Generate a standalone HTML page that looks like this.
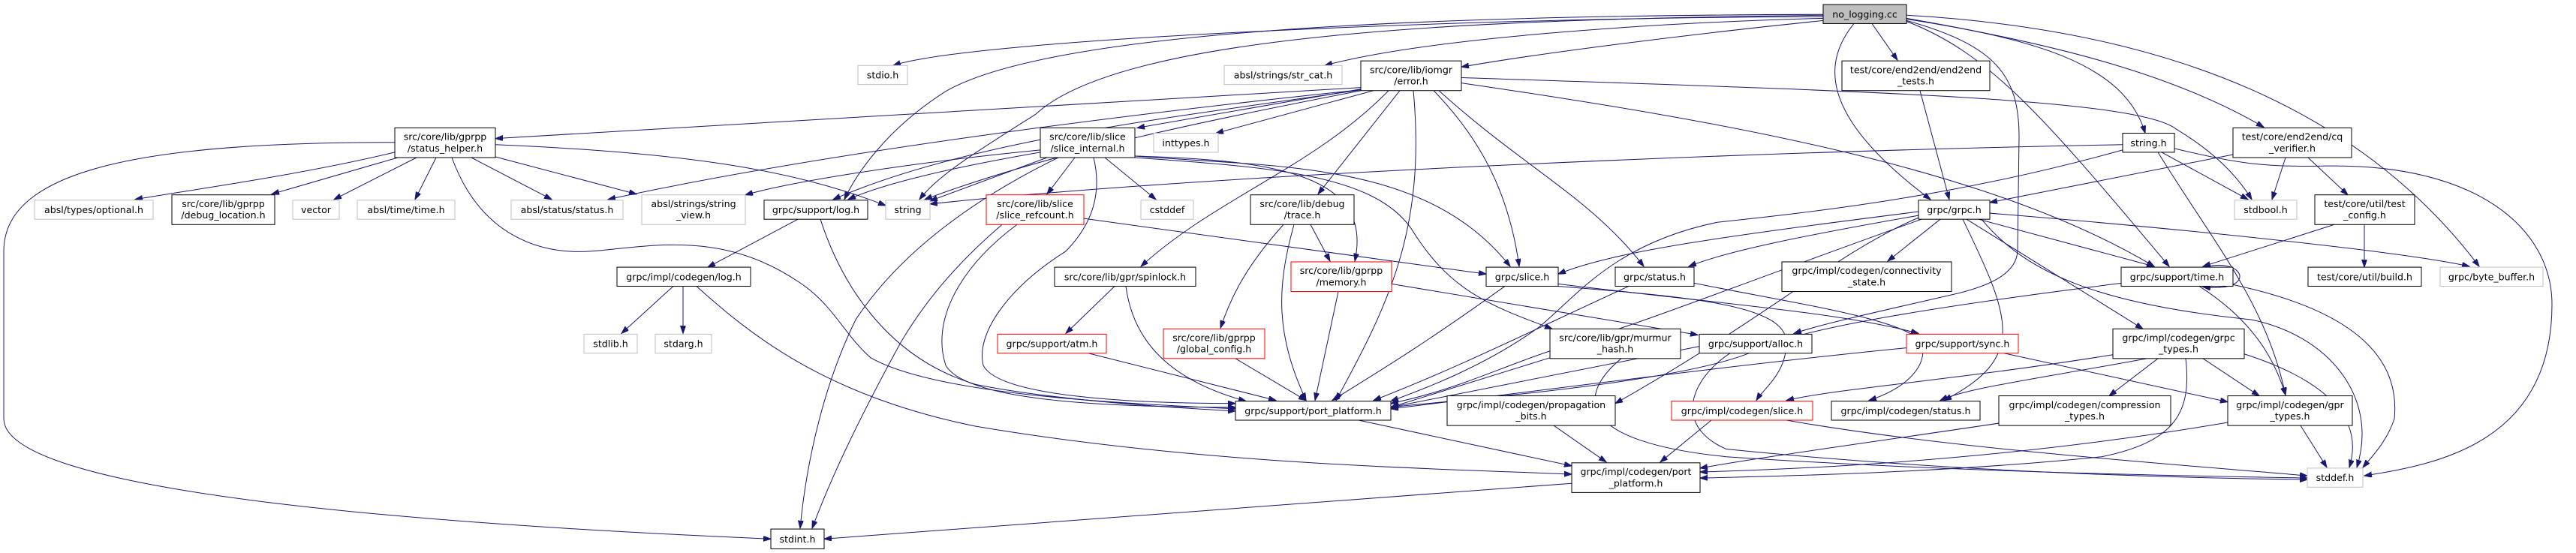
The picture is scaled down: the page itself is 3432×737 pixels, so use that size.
<!DOCTYPE html>
<html><head><meta charset="utf-8"><style>
html,body{margin:0;padding:0;background:#fff;}
svg{display:block}
text{font-family:"DejaVu Sans","Liberation Sans",sans-serif;font-size:12.6px;fill:#000;text-anchor:middle}
.e{fill:none;stroke:#191970;stroke-width:1;marker-end:url(#a)}
.n{fill:#fff;stroke:#000;stroke-width:1}
.g{fill:#fff;stroke:#bfbfbf;stroke-width:1}
.r{fill:#fff;stroke:#ff0000;stroke-width:1}
</style></head><body>
<svg width="3432" height="737" viewBox="0 0 3432 737" xmlns="http://www.w3.org/2000/svg">
<defs><marker id="a" markerUnits="userSpaceOnUse" markerWidth="11" markerHeight="8" refX="10" refY="3.5" orient="auto"><path d="M0,0 L10,3.5 L0,7 z" fill="#191970" stroke="#191970"/></marker></defs>
<g transform="scale(1,1.0145)">
<g>
<path class="e" d="M2429,22 C2000,22 1300,50 1190,86"/>
<path class="e" d="M2429,24 C2200,30 1900,50 1765,86"/>
<path class="e" d="M2429,27 C2250,45 2050,70 1947,88"/>
<path class="e" d="M2429,20 C2000,25 1500,40 1380,150 C1300,200 1250,230 1225,262"/>
<path class="e" d="M2429,19 C1900,20 1400,40 1260,120 C1180,170 1140,230 1125,262"/>
<path class="e" d="M2494,31 L2528,79"/>
<path class="e" d="M2470,31 C2430,80 2420,150 2572,262"/>
<path class="e" d="M2540,27 C2660,60 2690,100 2690,180 L2688,330 C2686,360 2650,375 2610,385 C2500,410 2430,425 2390,438"/>
<path class="e" d="M2540,28 C2650,70 2720,150 2890,350"/>
<path class="e" d="M2540,25 C2700,50 2830,80 2858,175"/>
<path class="e" d="M2540,24 C2750,60 2900,100 3016,167"/>
<path class="e" d="M2540,20 C2900,40 3150,150 3303,350"/>
<path class="e" d="M1813,115 L660,182"/>
<path class="e" d="M1813,118 C1500,150 1100,200 810,262"/>
<path class="e" d="M1813,118 C1600,150 1300,180 1110,262"/>
<path class="e" d="M1813,119 C1600,160 1400,200 1232,262"/>
<path class="e" d="M1813,117 L1515,168"/>
<path class="e" d="M1830,119 L1620,175"/>
<path class="e" d="M1850,119 C1750,220 1620,260 1520,350"/>
<path class="e" d="M1865,119 L1756,255"/>
<path class="e" d="M1883,119 C1900,300 1850,400 1780,526"/>
<path class="e" d="M1910,119 C1970,180 2010,250 2024,350"/>
<path class="e" d="M1917,119 C2030,220 2120,260 2190,350"/>
<path class="e" d="M1947,102 C2500,120 2850,130 2900,170 C2950,200 2980,230 3000,262"/>
<path class="e" d="M1947,109 C2300,160 2650,220 2870,350"/>
<path class="e" d="M526,200 C400,230 250,250 180,262"/>
<path class="e" d="M530,207 L362,255"/>
<path class="e" d="M555,207 L445,262"/>
<path class="e" d="M581,207 L553,262"/>
<path class="e" d="M628,207 L735,262"/>
<path class="e" d="M660,206 L848,255"/>
<path class="e" d="M660,190 C900,200 1050,220 1180,270"/>
<path class="e" d="M602,207 C640,310 720,335 788,330 C860,325 960,300 1065,371 C1110,400 1125,440 1160,470 C1250,520 1500,530 1646,537"/>
<path class="e" d="M526,187 C200,187 5,220 5,330 L5,550 C5,650 600,690 1027,708"/>
<path class="e" d="M1063,288 L943,351"/>
<path class="e" d="M1093,288 C1120,370 1180,470 1300,505 C1400,525 1550,535 1646,540"/>
<path class="e" d="M897,376 L828,438"/>
<path class="e" d="M910,376 L910,438"/>
<path class="e" d="M928,376 C1000,440 1100,520 1300,560 C1600,610 1900,615 2094,623"/>
<path class="e" d="M1386,197 C1200,215 1050,240 993,256"/>
<path class="e" d="M1386,200 C1270,220 1180,240 1130,262"/>
<path class="e" d="M1395,207 L1239,264"/>
<path class="e" d="M1432,207 L1395,255"/>
<path class="e" d="M1472,207 L1540,262"/>
<path class="e" d="M1410,207 C1300,260 1200,330 1140,420 C1100,500 1075,600 1066,694"/>
<path class="e" d="M1457,207 C1470,260 1450,300 1420,330 C1340,380 1300,440 1310,480 C1330,520 1500,530 1646,530"/>
<path class="e" d="M1512,205 C1700,220 1900,210 2012,350"/>
<path class="e" d="M1512,205 C1700,210 1830,230 1805,343"/>
<path class="e" d="M1512,207 C1700,220 1830,230 1880,300 C1930,380 1980,400 2068,432"/>
<path class="e" d="M2828,190 C2300,200 1600,230 1239,268"/>
<path class="e" d="M1444,287 L1980,360"/>
<path class="e" d="M1355,295 C1280,350 1240,420 1260,480 C1290,530 1500,535 1646,535"/>
<path class="e" d="M1335,295 C1270,350 1230,400 1200,450 C1150,540 1110,620 1082,694"/>
<path class="e" d="M1746,295 L1772,343"/>
<path class="e" d="M1710,295 C1660,350 1640,390 1626,431"/>
<path class="e" d="M1724,295 C1700,380 1700,440 1740,526"/>
<path class="e" d="M1485,376 L1420,438"/>
<path class="e" d="M1500,376 C1510,450 1560,500 1660,527"/>
<path class="e" d="M1450,464 L1700,526"/>
<path class="e" d="M1646,471 L1740,526"/>
<path class="e" d="M1783,383 L1752,526"/>
<path class="e" d="M1854,373 L2262,440"/>
<path class="e" d="M2005,376 C1900,450 1850,480 1775,526"/>
<path class="e" d="M2076,373 C2300,400 2450,410 2556,438"/>
<path class="e" d="M2076,376 C2250,390 2380,400 2380,450 C2380,490 2350,510 2340,526"/>
<path class="e" d="M2170,376 C2050,430 1950,480 1830,526"/>
<path class="e" d="M2257,372 C2400,400 2540,420 2560,450 C2570,480 2540,510 2490,526"/>
<path class="e" d="M2065,470 L1853,535"/>
<path class="e" d="M2160,471 C2100,520 2100,580 2300,600 C2600,620 2900,625 3074,628"/>
<path class="e" d="M1810,552 L2094,612"/>
<path class="e" d="M2070,559 L2140,607"/>
<path class="e" d="M2280,552 L2212,607"/>
<path class="e" d="M2380,552 C2600,590 2900,610 3074,625"/>
<path class="e" d="M2094,635 L1098,708"/>
<path class="e" d="M2556,278 C2300,310 2150,330 2076,360"/>
<path class="e" d="M2556,283 C2400,310 2300,330 2250,350"/>
<path class="e" d="M2585,288 L2515,343"/>
<path class="e" d="M2636,288 L2870,350"/>
<path class="e" d="M2620,288 L2855,432"/>
<path class="e" d="M2651,280 C2900,300 3200,330 3290,350"/>
<path class="e" d="M2640,288 C2700,360 2800,400 3000,420 C3100,440 3170,520 3140,614"/>
<path class="e" d="M2560,288 C2300,380 2200,420 2100,450 C2000,480 1950,510 1853,530"/>
<path class="e" d="M2556,286 C2450,330 2350,420 2152,530"/>
<path class="e" d="M2615,288 C2680,420 2700,470 2590,526"/>
<path class="e" d="M2935,352 C2990,335 3010,385 2935,377"/>
<path class="e" d="M2826,372 C2600,400 2400,430 2340,460 C2250,500 2000,520 1853,535"/>
<path class="e" d="M2975,374 C3100,400 3200,450 3190,550 C3180,580 3160,600 3148,614"/>
<path class="e" d="M2930,376 C3000,420 3030,470 3045,519"/>
<path class="e" d="M3110,295 L2935,350"/>
<path class="e" d="M2828,197 C2600,260 2400,280 2288,292 C2150,320 2100,390 2050,430 C1980,480 1900,510 1853,527"/>
<path class="e" d="M2880,200 L2995,262"/>
<path class="e" d="M2875,200 C2950,320 3020,400 3045,519"/>
<path class="e" d="M2897,195 C2980,215 3020,220 3100,218 C3300,215 3400,300 3400,400 C3400,580 3250,610 3150,625"/>
<path class="e" d="M2975,203 L2651,266"/>
<path class="e" d="M3045,207 L3027,262"/>
<path class="e" d="M3075,207 L3128,256"/>
<path class="e" d="M3150,295 L3150,351"/>
<path class="e" d="M2558,119 L2597,262"/>
<path class="e" d="M2264,455 L1853,535"/>
<path class="e" d="M2305,464 C2250,500 2230,560 2300,590 C2600,620 2900,628 3074,630"/>
<path class="e" d="M2540,457 C2300,480 2000,520 1853,537"/>
<path class="e" d="M2670,464 L2968,528"/>
<path class="e" d="M2875,471 L2810,520"/>
<path class="e" d="M2935,471 L3010,520"/>
<path class="e" d="M2815,466 C2600,500 2450,510 2380,526"/>
<path class="e" d="M2860,471 C2700,500 2620,510 2585,526"/>
<path class="e" d="M2990,465 C3100,500 3150,550 3130,614"/>
<path class="e" d="M2912,471 C2920,540 2900,580 2800,600 C2600,620 2400,625 2265,628"/>
<path class="e" d="M2663,556 C2500,580 2350,600 2265,615"/>
<path class="e" d="M2968,555 C2700,600 2450,615 2265,620"/>
<path class="e" d="M3065,559 L3100,614"/>
</g>
<g>
<rect x="2429" y="6" width="111" height="25" fill="#bfbfbf" stroke="#000"/><text x="2484.5" y="23">no_logging.cc</text>
<rect class="g" x="1143" y="86" width="66" height="25"/><text x="1176" y="103">stdio.h</text>
<rect class="g" x="1631" y="86" width="157" height="25"/><text x="1709.5" y="103">absl/strings/str_cat.h</text>
<rect class="n" x="1813" y="80" width="134" height="39"/><text x="1880" y="96">src/core/lib/iomgr</text><text x="1880" y="111">/error.h</text>
<rect class="n" x="2454" y="80" width="197" height="39"/><text x="2552.5" y="96">test/core/end2end/end2end</text><text x="2552.5" y="111">_tests.h</text>
<rect class="n" x="526" y="168" width="134" height="39"/><text x="593" y="184">src/core/lib/gprpp</text><text x="593" y="199">/status_helper.h</text>
<rect class="n" x="1386" y="168" width="126" height="39"/><text x="1449" y="184">src/core/lib/slice</text><text x="1449" y="199">/slice_internal.h</text>
<rect class="g" x="1537" y="175" width="86" height="25"/><text x="1580" y="192">inttypes.h</text>
<rect class="n" x="2828" y="175" width="69" height="25"/><text x="2862.5" y="192">string.h</text>
<rect class="n" x="2975" y="168" width="158" height="39"/><text x="3054" y="184">test/core/end2end/cq</text><text x="3054" y="199">_verifier.h</text>
<rect class="g" x="46" y="263" width="158" height="25"/><text x="125" y="280">absl/types/optional.h</text>
<rect class="n" x="229" y="256" width="137" height="39"/><text x="297.5" y="272">src/core/lib/gprpp</text><text x="297.5" y="287">/debug_location.h</text>
<rect class="g" x="390" y="263" width="62" height="25"/><text x="421" y="280">vector</text>
<rect class="g" x="476" y="263" width="130" height="25"/><text x="541" y="280">absl/time/time.h</text>
<rect class="g" x="681" y="263" width="149" height="25"/><text x="755.5" y="280">absl/status/status.h</text>
<rect class="g" x="855" y="256" width="138" height="39"/><text x="924" y="272">absl/strings/string</text><text x="924" y="287">_view.h</text>
<rect class="n" x="1018" y="263" width="138" height="25"/><text x="1087" y="280">grpc/support/log.h</text>
<rect class="g" x="1180" y="263" width="59" height="25"/><text x="1209.5" y="280">string</text>
<rect class="r" x="1314" y="256" width="130" height="39"/><text x="1379" y="272">src/core/lib/slice</text><text x="1379" y="287">/slice_refcount.h</text>
<rect class="g" x="1520" y="263" width="70" height="25"/><text x="1555" y="280">cstddef</text>
<rect class="n" x="1666" y="256" width="138" height="39"/><text x="1735" y="272">src/core/lib/debug</text><text x="1735" y="287">/trace.h</text>
<rect class="n" x="2556" y="263" width="95" height="25"/><text x="2603.5" y="280">grpc/grpc.h</text>
<rect class="g" x="2977" y="263" width="83" height="25"/><text x="3018.5" y="280">stdbool.h</text>
<rect class="n" x="3084" y="256" width="133" height="39"/><text x="3150.5" y="272">test/core/util/test</text><text x="3150.5" y="287">_config.h</text>
<rect class="n" x="822" y="351" width="178" height="25"/><text x="911" y="368">grpc/impl/codegen/log.h</text>
<rect class="n" x="1405" y="351" width="188" height="25"/><text x="1499" y="368">src/core/lib/gpr/spinlock.h</text>
<rect class="r" x="1720" y="344" width="134" height="39"/><text x="1787" y="360">src/core/lib/gprpp</text><text x="1787" y="375">/memory.h</text>
<rect class="n" x="1980" y="351" width="96" height="25"/><text x="2028" y="368">grpc/slice.h</text>
<rect class="n" x="2152" y="351" width="105" height="25"/><text x="2204.5" y="368">grpc/status.h</text>
<rect class="n" x="2374" y="344" width="226" height="39"/><text x="2487" y="360">grpc/impl/codegen/connectivity</text><text x="2487" y="375">_state.h</text>
<rect class="n" x="2826" y="351" width="149" height="25"/><text x="2900.5" y="368">grpc/support/time.h</text>
<rect class="n" x="3075" y="351" width="151" height="25"/><text x="3150.5" y="368">test/core/util/build.h</text>
<rect class="g" x="3251" y="351" width="137" height="25"/><text x="3319.5" y="368">grpc/byte_buffer.h</text>
<rect class="g" x="778" y="439" width="71" height="25"/><text x="813.5" y="456">stdlib.h</text>
<rect class="g" x="873" y="439" width="75" height="25"/><text x="910.5" y="456">stdarg.h</text>
<rect class="r" x="1329" y="439" width="145" height="25"/><text x="1401.5" y="456">grpc/support/atm.h</text>
<rect class="r" x="1550" y="432" width="135" height="39"/><text x="1617.5" y="448">src/core/lib/gprpp</text><text x="1617.5" y="463">/global_config.h</text>
<rect class="n" x="2065" y="432" width="174" height="39"/><text x="2152" y="448">src/core/lib/gpr/murmur</text><text x="2152" y="463">_hash.h</text>
<rect class="n" x="2264" y="439" width="150" height="25"/><text x="2339" y="456">grpc/support/alloc.h</text>
<rect class="r" x="2540" y="439" width="149" height="25"/><text x="2614.5" y="456">grpc/support/sync.h</text>
<rect class="n" x="2815" y="432" width="175" height="39"/><text x="2902.5" y="448">grpc/impl/codegen/grpc</text><text x="2902.5" y="463">_types.h</text>
<rect class="n" x="1646" y="527" width="207" height="25"/><text x="1749.5" y="544">grpc/support/port_platform.h</text>
<rect class="n" x="1928" y="520" width="224" height="39"/><text x="2040" y="536">grpc/impl/codegen/propagation</text><text x="2040" y="551">_bits.h</text>
<rect class="r" x="2227" y="527" width="188" height="25"/><text x="2321" y="544">grpc/impl/codegen/slice.h</text>
<rect class="n" x="2440" y="527" width="198" height="25"/><text x="2539" y="544">grpc/impl/codegen/status.h</text>
<rect class="n" x="2663" y="520" width="229" height="39"/><text x="2777.5" y="536">grpc/impl/codegen/compression</text><text x="2777.5" y="551">_types.h</text>
<rect class="n" x="2968" y="520" width="166" height="39"/><text x="3051" y="536">grpc/impl/codegen/gpr</text><text x="3051" y="551">_types.h</text>
<rect class="n" x="2094" y="608" width="171" height="39"/><text x="2179.5" y="624">grpc/impl/codegen/port</text><text x="2179.5" y="639">_platform.h</text>
<rect class="g" x="3074" y="615" width="74" height="25"/><text x="3111" y="632">stddef.h</text>
<rect class="n" x="1027" y="695" width="71" height="26"/><text x="1062.5" y="712.5">stdint.h</text>
</g>
</g>
</svg>
</body></html>
